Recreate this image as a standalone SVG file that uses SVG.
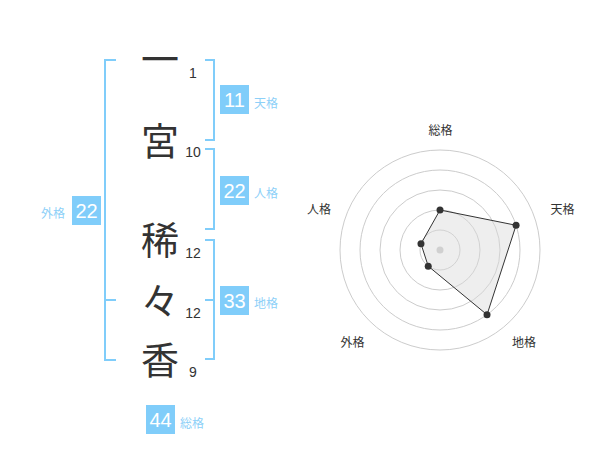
<svg xmlns="http://www.w3.org/2000/svg" width="600" height="470" viewBox="0 0 600 470">
<style>
.ch{font-family:"Noto Sans CJK JP","Noto Sans CJK SC",sans-serif;font-size:38px;fill:#333;text-anchor:middle}
.num{font-family:"Liberation Sans",Arial,sans-serif;font-size:14px;fill:#333;text-anchor:middle}
.br{fill:none;stroke:#80cdfa;stroke-width:2}
.box{fill:#80cdfa}
.bt{font-family:"Liberation Sans",Arial,sans-serif;font-size:20px;fill:#fff;text-anchor:middle}
.lb{font-family:"Noto Sans CJK JP","Noto Sans CJK SC",sans-serif;font-size:12px;fill:#8dd0f8}
.ring{fill:none;stroke:#cccccc;stroke-width:1}
.rl{font-family:"Noto Sans CJK JP","Noto Sans CJK SC",sans-serif;font-size:12px;fill:#333;text-anchor:middle}
.pt{fill:#333}
</style>
<rect width="600" height="470" fill="#fff"/>
<g id="name">
<text class="ch" x="160" y="73">一</text>
<text class="ch" x="160" y="155">宮</text>
<text class="ch" x="160" y="254">稀</text>
<text class="ch" x="160" y="315">々</text>
<text class="ch" x="160" y="374">香</text>
<text class="num" x="193" y="78">1</text>
<text class="num" x="193" y="157">10</text>
<text class="num" x="193" y="258">12</text>
<text class="num" x="193" y="318">12</text>
<text class="num" x="193" y="377">9</text>
</g>
<g id="connectors">
<path class="br" d="M116,60 H105 V360 H116 M105,300 H116"/>
<path class="br" d="M205,60 H214 V140 H205"/>
<path class="br" d="M205,149 H214 V229 H205"/>
<path class="br" d="M205,240 H214 V359 H205 M205,300 H214"/>
</g>
<g id="tenkaku">
<rect class="box" x="220" y="85" width="29" height="29"/>
<text class="bt" x="234.5" y="107">11</text>
<text class="lb" x="254" y="107.5">天格</text>
</g>
<g id="jinkaku">
<rect class="box" x="220" y="176" width="29" height="29"/>
<text class="bt" x="234.5" y="198">22</text>
<text class="lb" x="254" y="198">人格</text>
</g>
<g id="chikaku">
<rect class="box" x="220" y="286" width="29" height="29"/>
<text class="bt" x="234.5" y="308">33</text>
<text class="lb" x="254" y="308">地格</text>
</g>
<g id="gaikaku">
<rect class="box" x="72" y="196" width="29" height="29"/>
<text class="bt" x="86.5" y="218">22</text>
<text class="lb" x="41" y="218">外格</text>
</g>
<g id="soukaku">
<rect class="box" x="146" y="405" width="29" height="29"/>
<text class="bt" x="160.5" y="427">44</text>
<text class="lb" x="180" y="427.5">総格</text>
</g>
<g id="radar">
<circle class="ring" cx="440" cy="250" r="20"/>
<circle class="ring" cx="440" cy="250" r="40"/>
<circle class="ring" cx="440" cy="250" r="60"/>
<circle class="ring" cx="440" cy="250" r="80"/>
<circle class="ring" cx="440" cy="250" r="100"/>
<circle cx="440" cy="250" r="3.5" fill="#c8c8c8"/>
<polygon points="440,210 516.08,225.28 487.02,314.72 428.24,266.18 420.98,243.82" fill="#d9d9d9" fill-opacity="0.45" stroke="#333" stroke-width="1"/>
<circle class="pt" cx="440" cy="210" r="3.5"/>
<circle class="pt" cx="516.08" cy="225.28" r="3.5"/>
<circle class="pt" cx="487.02" cy="314.72" r="3.5"/>
<circle class="pt" cx="428.24" cy="266.18" r="3.5"/>
<circle class="pt" cx="420.98" cy="243.82" r="3.5"/>
<text class="rl" x="440.5" y="135">総格</text>
<text class="rl" x="562.5" y="213.5">天格</text>
<text class="rl" x="524" y="346.5">地格</text>
<text class="rl" x="352.5" y="346.5">外格</text>
<text class="rl" x="319" y="213.5">人格</text>
</g>
</svg>
